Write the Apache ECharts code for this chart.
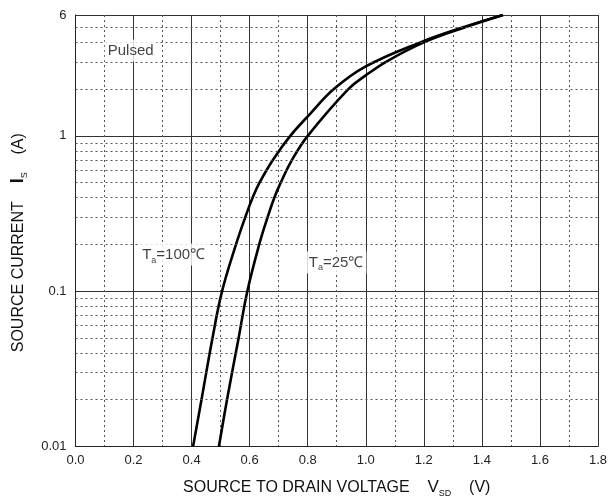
<!DOCTYPE html>
<html>
<head>
<meta charset="utf-8">
<script src="https://cdn.jsdelivr.net/npm/echarts@6/dist/echarts.min.js"></script>
<style>
html,body{margin:0;padding:0;background:#fff;overflow:hidden;}
#chart{width:610px;height:503px;}
</style>
</head>
<body>
<div id="chart"></div>
<script>
// ---- data ----
var t100_V = [0.405, 0.434, 0.472, 0.505, 0.553, 0.585, 0.610, 0.634, 0.680, 0.740, 0.806, 0.890, 1.000, 1.188, 1.336, 1.473];
var t100_I = [0.01, 0.02, 0.05, 0.1, 0.2, 0.3, 0.4, 0.5, 0.7, 1.0, 1.37, 2, 2.8, 4, 5, 6];
var t25_V = [0.494, 0.522, 0.562, 0.592, 0.633, 0.662, 0.685, 0.707, 0.746, 0.800, 0.940, 1.000, 1.070, 1.200, 1.342, 1.473];
var t25_I = [0.01, 0.02, 0.05, 0.1, 0.2, 0.3, 0.4, 0.5, 0.7, 1.0, 2, 2.45, 3, 4, 5, 6];
var xTicks = [0.0, 0.2, 0.4, 0.6, 0.8, 1.0, 1.2, 1.4, 1.6, 1.8];
var yTickLabels = ['0.01', '0.1', '1', '6'];
var decades = [0.01, 0.1, 1];
var minorMult = [2, 3, 4, 5, 6, 7, 8, 9];
var yMin = 0.01, yMax = 6;
var annotations = [
  {x: 0.338, y: 0.172, main: 'T', sub: 'a', rest: '=100℃'},
  {x: 0.898, y: 0.153, main: 'T', sub: 'a', rest: '=25℃'},
  {x: 0.19, y: 3.55, main: 'Pulsed', sub: '', rest: ''}
];

function zip(a, b) { return a.map(function (v, i) { return [v, b[i]]; }); }

var minorY = [];
decades.forEach(function (d) {
  minorMult.forEach(function (m) {
    var v = +(m * d).toFixed(4);
    if (v < yMax) minorY.push(v);
  });
});

var FONT = 'Liberation Sans, Arial, sans-serif';
var chart = echarts.init(document.getElementById('chart'));
var option = {
  backgroundColor: '#fff',
  animation: false,
  grid: {left: 72, right: 11, top: 15, bottom: 49, containLabel: false},
  xAxis: {
    type: 'value', min: 0, max: 1.8, interval: 0.2,
    axisLine: {show: true, lineStyle: {color: '#222', width: 1}},
    axisTick: {show: false},
    axisLabel: {
      color: '#222', fontSize: 13, fontFamily: FONT, margin: 7,
      formatter: function (v) { return v.toFixed(1); }
    },
    splitLine: {show: true, lineStyle: {color: '#333', width: 1}},
    minorTick: {show: false, splitNumber: 2},
    minorSplitLine: {show: true, lineStyle: {color: '#555', width: 1, type: [2, 3]}},
    name: '{n|SOURCE TO DRAIN VOLTAGE    }{v|V}{s|SD}{n|    (V)}',
    nameLocation: 'middle', nameGap: 32,
    nameTextStyle: {
      rich: {
        n: {fontSize: 16, fontFamily: FONT, color: '#111', lineHeight: 18},
        v: {fontSize: 17, fontFamily: FONT, color: '#111', lineHeight: 18},
        s: {fontSize: 9, fontFamily: FONT, color: '#111', lineHeight: 9, padding: [12, 0, 0, 0]}
      }
    }
  },
  yAxis: {
    type: 'log', logBase: 10, min: yMin, max: yMax,
    axisLine: {show: true, lineStyle: {color: '#222', width: 1}},
    axisTick: {show: false},
    axisLabel: {
      color: '#222', fontSize: 13, fontFamily: FONT, margin: 9,
      formatter: function (v) {
        var s = String(+v.toPrecision(3));
        return yTickLabels.indexOf(s) >= 0 ? s : '';
      }
    },
    splitLine: {show: true, lineStyle: {color: '#333', width: 1}},
    name: '{n|SOURCE CURRENT    }{i|I}{s|S}{n|    (A)}',
    nameLocation: 'middle', nameGap: 48,
    nameTextStyle: {
      padding: [0, 24, 0, 0],
      rich: {
        n: {fontSize: 16, fontFamily: FONT, color: '#111', lineHeight: 18},
        i: {fontSize: 18, fontFamily: FONT, fontWeight: 'bold', color: '#111', lineHeight: 18},
        s: {fontSize: 9, fontFamily: FONT, color: '#111', lineHeight: 9, padding: [12, 0, 0, 0]}
      }
    }
  },
  series: [
    {
      type: 'line', data: [], z: 1, silent: true,
      markLine: {
        silent: true, symbol: 'none', animation: false,
        label: {show: false},
        lineStyle: {color: '#555', width: 1, type: [2, 3]},
        data: minorY.map(function (v) { return {yAxis: v}; })
      }
    },
    {
      name: 'Ta=100', type: 'line', smooth: 0.4, showSymbol: false, z: 3,
      lineStyle: {color: '#000', width: 2.6},
      data: zip(t100_V, t100_I)
    },
    {
      name: 'Ta=25', type: 'line', smooth: 0.4, showSymbol: false, z: 3,
      lineStyle: {color: '#000', width: 2.6},
      data: zip(t25_V, t25_I)
    },
    {
      type: 'scatter', symbolSize: 1, itemStyle: {color: 'rgba(0,0,0,0)'}, z: 5, silent: true,
      data: annotations.map(function (a) { return [a.x, a.y]; }),
      label: {
        show: true, position: 'inside',
        backgroundColor: '#fff', padding: [2, 3, 2, 3],
        formatter: function (p) {
          var a = annotations[p.dataIndex];
          if (!a.sub) return '{t|' + a.main + '}';
          return '{t|' + a.main + '}{s|' + a.sub + '}{t|' + a.rest + '}';
        },
        rich: {
          t: {fontSize: 15, fontFamily: FONT, color: '#111', lineHeight: 18},
          s: {fontSize: 9, fontFamily: FONT, color: '#111', lineHeight: 9, padding: [11, 0, 0, 0]}
        }
      }
    }
  ]
};
chart.setOption(option);
</script>
</body>
</html>
